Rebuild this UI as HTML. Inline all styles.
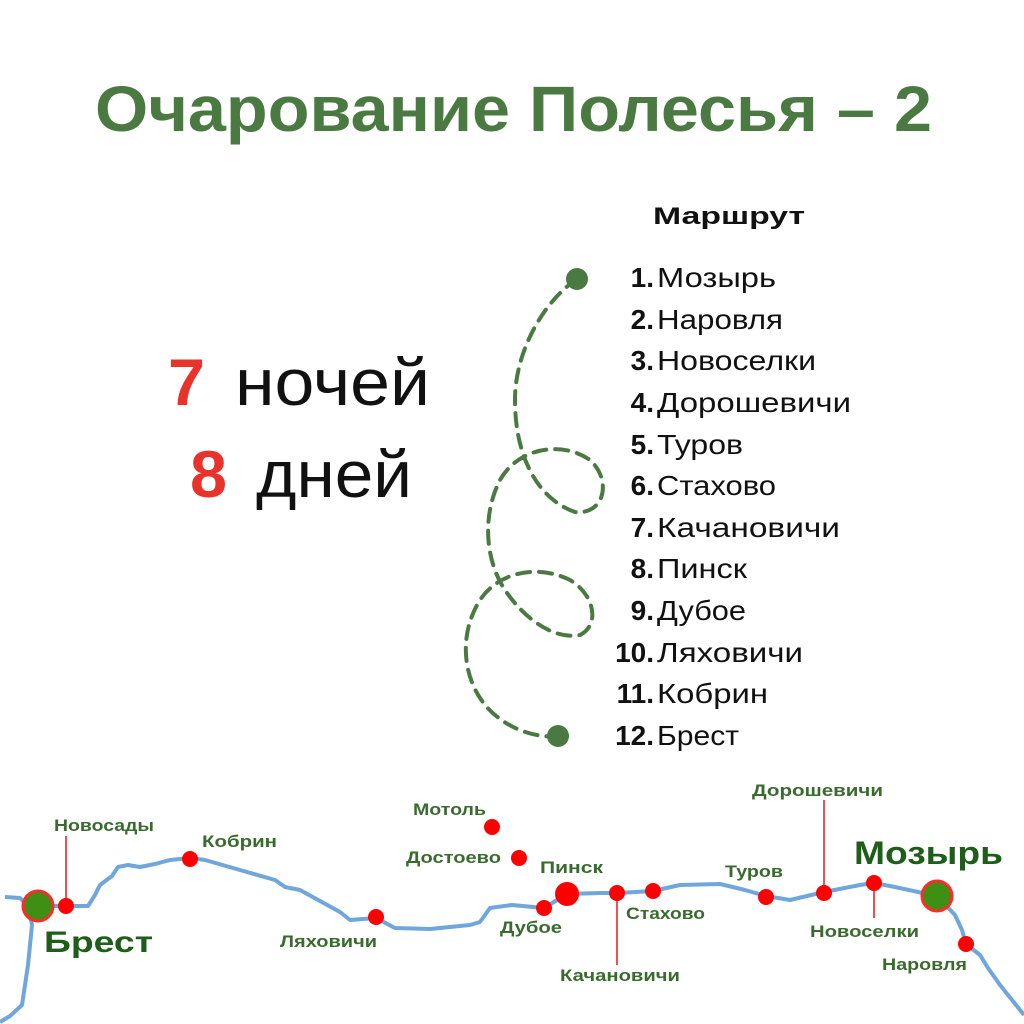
<!DOCTYPE html>
<html><head><meta charset="utf-8"><style>
html,body{margin:0;padding:0;background:#fff;}
svg{display:block}
</style></head><body>
<svg width="1024" height="1024" viewBox="0 0 1024 1024" xmlns="http://www.w3.org/2000/svg" font-family="'Liberation Sans','DejaVu Sans',sans-serif">
<rect width="1024" height="1024" fill="#fff"/>
<text x="95" y="131" font-size="64" font-weight="bold" fill="#4a7a42" textLength="837" lengthAdjust="spacingAndGlyphs">Очарование  Полесья – 2</text>

<text x="653" y="224" font-size="24" font-weight="bold" fill="#111" textLength="152" lengthAdjust="spacingAndGlyphs">Маршрут</text>
<g font-size="28" fill="#111" lengthAdjust="spacingAndGlyphs">
<g font-weight="bold" text-anchor="end">
<text x="654" y="287">1.</text><text x="654" y="329">2.</text><text x="654" y="370">3.</text><text x="654" y="412">4.</text><text x="654" y="454">5.</text><text x="654" y="495">6.</text><text x="654" y="537">7.</text><text x="654" y="578">8.</text><text x="654" y="620">9.</text><text x="654" y="662">10.</text><text x="654" y="703">11.</text><text x="654" y="745">12.</text>
</g>
<text x="657" y="287" textLength="119" lengthAdjust="spacingAndGlyphs">Мозырь</text>
<text x="657" y="329" textLength="126" lengthAdjust="spacingAndGlyphs">Наровля</text>
<text x="657" y="370" textLength="159" lengthAdjust="spacingAndGlyphs">Новоселки</text>
<text x="657" y="412" textLength="194" lengthAdjust="spacingAndGlyphs">Дорошевичи</text>
<text x="657" y="454" textLength="86" lengthAdjust="spacingAndGlyphs">Туров</text>
<text x="657" y="495" textLength="119" lengthAdjust="spacingAndGlyphs">Стахово</text>
<text x="657" y="537" textLength="183" lengthAdjust="spacingAndGlyphs">Качановичи</text>
<text x="657" y="578" textLength="90" lengthAdjust="spacingAndGlyphs">Пинск</text>
<text x="657" y="620" textLength="89" lengthAdjust="spacingAndGlyphs">Дубое</text>
<text x="657" y="662" textLength="146" lengthAdjust="spacingAndGlyphs">Ляховичи</text>
<text x="657" y="703" textLength="111" lengthAdjust="spacingAndGlyphs">Кобрин</text>
<text x="657" y="745" textLength="82" lengthAdjust="spacingAndGlyphs">Брест</text>
</g>

<g font-size="66">
<text x="168" y="405" fill="#e8322a" font-weight="bold" textLength="37" lengthAdjust="spacingAndGlyphs">7</text>
<text x="235" y="405" fill="#111" textLength="195" lengthAdjust="spacingAndGlyphs">ночей</text>
<text x="190" y="497" fill="#e8322a" font-weight="bold" textLength="37" lengthAdjust="spacingAndGlyphs">8</text>
<text x="256" y="497" fill="#111" textLength="156" lengthAdjust="spacingAndGlyphs">дней</text>
</g>

<path d="M577,279 C545,300 515,350 515,400 C515,460 540,500 575,512 C605,515 612,480 590,460 C565,442 520,445 500,480 C482,515 485,560 505,590 C525,620 555,640 580,635 C600,625 595,595 570,580 C540,565 500,570 480,600 C455,640 465,690 495,715 C515,732 540,738 558,736" fill="none" stroke="#4a7a42" stroke-width="4" stroke-dasharray="13,9" stroke-linecap="round"/>
<circle cx="577" cy="279" r="11" fill="#4a7a42"/>
<circle cx="558" cy="736" r="11" fill="#4a7a42"/>

<g fill="none" stroke="#6fa6dc" stroke-width="4" stroke-linejoin="round">
<path d="M5,897 L20,898 L28,906 L38,906 L66,906 L88,906 L95,895 L100,885 L112,876 L118,867 L128,865 L140,867 L155,864 L170,860 L190,858 L205,860 L240,870 L275,880 L285,887 L300,890 L340,912 L350,920 L376,918 L395,928 L430,929 L470,925 L480,922 L490,908 L512,905 L544,908 L567,894 L600,893 L617,893 L653,891 L680,885 L720,884 L745,890 L766,896 L790,900 L824,892 L860,885 L874,883 L890,886 L937,896 L955,915 L962,930 L966,944 L980,955 L988,968 L1000,985 L1012,1000 L1024,1015"/>
<path d="M28,906 L32,925 L30,945 L28,965 L25,985 L22,1005 L10,1016 L0,1022"/>
</g>

<g stroke="#f05050" stroke-width="2">
<line x1="66" y1="836" x2="66" y2="905"/>
<line x1="617" y1="893" x2="617" y2="965"/>
<line x1="824" y1="800" x2="824" y2="890"/>
<line x1="874" y1="885" x2="874" y2="918"/>
</g>

<g fill="#ff0000">
<circle cx="66" cy="906" r="8"/>
<circle cx="190" cy="859" r="8"/>
<circle cx="376" cy="917" r="8"/>
<circle cx="492" cy="827" r="8"/>
<circle cx="519" cy="858" r="8"/>
<circle cx="544" cy="908" r="8"/>
<circle cx="567" cy="894" r="12"/>
<circle cx="617" cy="893" r="8"/>
<circle cx="653" cy="891" r="8"/>
<circle cx="766" cy="897" r="8"/>
<circle cx="824" cy="893" r="8"/>
<circle cx="874" cy="883" r="8"/>
<circle cx="966" cy="944" r="8"/>
</g>
<circle cx="38" cy="906" r="15" fill="#3f8f14" stroke="#ff2a2a" stroke-width="3"/>
<circle cx="937" cy="896" r="15" fill="#3f8f14" stroke="#ff2a2a" stroke-width="3"/>

<g fill="#3a6b2e" font-size="17" font-weight="bold">
<text x="54" y="831" textLength="100" lengthAdjust="spacingAndGlyphs">Новосады</text>
<text x="202" y="847" textLength="75" lengthAdjust="spacingAndGlyphs">Кобрин</text>
<text x="413" y="815" textLength="73" lengthAdjust="spacingAndGlyphs">Мотоль</text>
<text x="406" y="863" textLength="95" lengthAdjust="spacingAndGlyphs">Достоево</text>
<text x="280" y="947" textLength="97" lengthAdjust="spacingAndGlyphs">Ляховичи</text>
<text x="500" y="933" textLength="62" lengthAdjust="spacingAndGlyphs">Дубое</text>
<text x="540" y="873" textLength="63" lengthAdjust="spacingAndGlyphs">Пинск</text>
<text x="626" y="919" textLength="79" lengthAdjust="spacingAndGlyphs">Стахово</text>
<text x="560" y="981" textLength="120" lengthAdjust="spacingAndGlyphs">Качановичи</text>
<text x="725" y="877" textLength="58" lengthAdjust="spacingAndGlyphs">Туров</text>
<text x="752" y="796" textLength="131" lengthAdjust="spacingAndGlyphs">Дорошевичи</text>
<text x="810" y="937" textLength="109" lengthAdjust="spacingAndGlyphs">Новоселки</text>
<text x="882" y="970" textLength="85" lengthAdjust="spacingAndGlyphs">Наровля</text>
</g>
<text x="44" y="952" fill="#1f5e1a" font-size="30" font-weight="bold" textLength="109" lengthAdjust="spacingAndGlyphs">Брест</text>
<text x="854" y="864" fill="#1f5e1a" font-size="32" font-weight="bold" textLength="149" lengthAdjust="spacingAndGlyphs">Мозырь</text>
</svg>
</body></html>
